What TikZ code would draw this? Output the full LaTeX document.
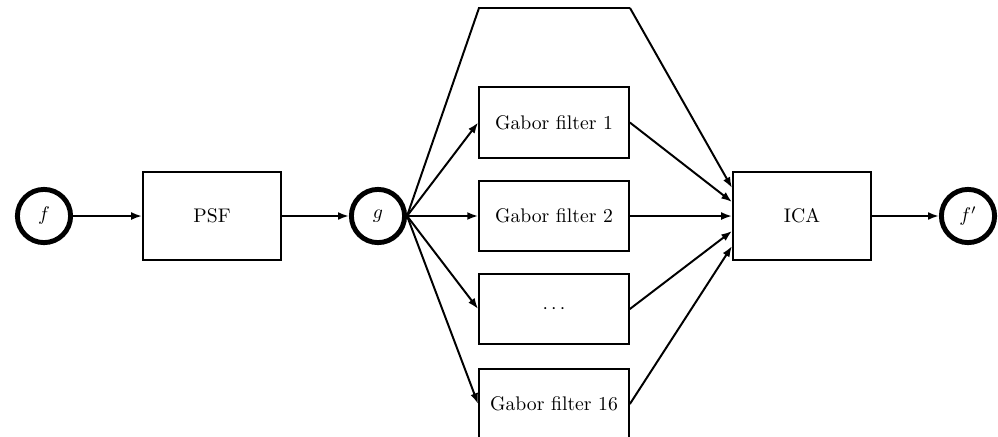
\documentclass[tikz,border=0pt]{standalone}
\usetikzlibrary{arrows.meta,calc}
\begin{document}
\begin{tikzpicture}[x=0.5075pt,y=-0.5075pt,
  box/.style={draw,line width=1pt,minimum width=70pt,minimum height=45pt,inner sep=0pt},
  gbox/.style={draw,line width=1pt,minimum width=76pt,minimum height=36pt,inner sep=0pt},
  sig/.style={draw,circle,line width=2.5pt,minimum size=27pt,inner sep=0pt},
  conn/.style={line width=1pt,-{Latex[length=5.5pt,width=4pt]}},
  plain/.style={line width=1pt}]
\useasboundingbox (0,0) rectangle (998,436);
\clip (0,0) rectangle (998,436);
\node[sig] (f) at (44,216) {$f$};
\node[box] (psf) at (212,216) {PSF};
\node[sig] (g) at (378,216) {$g$};
\node[gbox] (g1) at (554,122.5) {Gabor filter 1};
\node[gbox] (g2) at (554,216) {Gabor filter 2};
\node[gbox] (g3) at (554,309) {$\cdots$};
\node[gbox] (g16) at (554,404) {Gabor filter 16};
\node[box] (ica) at (802,216) {ICA};
\node[sig] (fp) at (968,216) {$f'$};
\coordinate (tl) at (479,8);
\coordinate (tr) at (630,8);
\draw[conn] (f) -- (psf);
\draw[conn] (psf) -- (g);
\draw[conn] (g.east) -- (g1.west);
\draw[conn] (g.east) -- (g2.west);
\draw[conn] (g.east) -- (g3.west);
\draw[conn] (g.east) -- (g16.west);
\draw[plain] (g.east) -- (tl) -- (tr);
\draw[conn] (tr) -- ($(ica.west)+(0,-28)$);
\draw[conn] (g1.east) -- ($(ica.west)+(0,-14)$);
\draw[conn] (g2.east) -- ($(ica.west)+(0,0)$);
\draw[conn] (g3.east) -- ($(ica.west)+(0,15)$);
\draw[conn] (g16.east) -- ($(ica.west)+(0,30)$);
\draw[conn] (ica) -- (fp);
\end{tikzpicture}
\end{document}
